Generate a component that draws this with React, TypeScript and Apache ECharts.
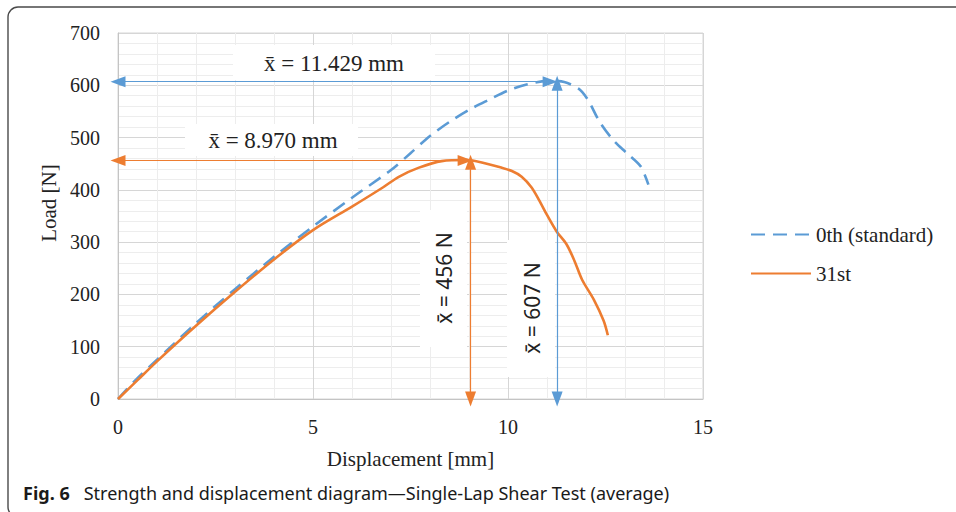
import React, { useEffect, useRef } from "react";
import * as echarts from "echarts";

// ---- data ----
const xTicks = [0, 5, 10, 15];
const yTicks = [0, 100, 200, 300, 400, 500, 600, 700];

const seriesNames = ["0th (standard)", "31st"];

const disp0 = [0, 0.5, 1, 2, 3, 4, 5, 6, 7, 7.5, 8, 8.5, 9, 9.5, 10, 10.5, 11, 11.3, 11.8, 12.05, 12.35, 12.7, 13.05, 13.4, 13.6];
const load0 = [0, 40, 75, 145, 210, 272, 330, 385, 438, 470, 503, 530, 553, 572, 590, 602, 608, 608, 594, 572, 530, 495, 470, 445, 410];

const disp31 = [0, 0.5, 1, 2, 3, 4, 5, 6, 6.8, 7.2, 7.7, 8.3, 8.95, 9.3, 9.8, 10.1, 10.35, 10.6, 10.8, 11, 11.25, 11.5, 11.7, 11.9, 12.2, 12.45, 12.56];
const load31 = [0, 36, 72, 140, 205, 267, 323, 368, 405, 425, 442, 455, 457, 453, 443, 436, 425, 405, 380, 352, 320, 296, 265, 228, 190, 150, 122];

// peak annotation arrows: [fromX, fromY, toX, toY]
const arrows0 = [
  [0, 607, 11.08, 607],
  [11.26, 604, 11.26, 0],
];
const arrows31 = [
  [0, 456, 8.9, 456],
  [9.04, 453, 9.04, 0],
];

const labelTexts = ["x̄ = 11.429 mm", "x̄ = 8.970 mm", "x̄ = 456 N", "x̄ = 607 N"];
const captionBold = "Fig. 6";
const captionText = "Strength and displacement diagram—Single-Lap Shear Test (average)";

const BLUE = "#5B9BD5";
const ORANGE = "#ED7D31";
const SERIF = "'Liberation Serif', 'Times New Roman', serif";
const SANS = "'Noto Sans', 'Open Sans', sans-serif";

function zip(xs: number[], ys: number[]) {
  return xs.map((x, i) => [x, ys[i]]);
}

function arrowLines(list: number[][]) {
  return list.map((a) => [{ coord: [a[0], a[1]] }, { coord: [a[2], a[3]] }]);
}

export default function App() {
  const ref = useRef<HTMLDivElement>(null);

  useEffect(() => {
    if (!ref.current) return;
    const chart = echarts.init(ref.current, undefined, { renderer: "svg" });

    const markLineCommon = (color: string, list: number[][]) => ({
      silent: true,
      symbol: ["triangle", "triangle"],
      symbolSize: [11, 15],
      label: { show: false },
      lineStyle: { color, width: 1.2, type: "solid" },
      emphasis: { disabled: true },
      data: arrowLines(list),
    });

    const option: any = {
      animation: false,
      backgroundColor: "#ffffff",
      grid: {
        left: 118,
        right: 253,
        top: 33,
        bottom: 113,
        show: true,
        borderColor: "#d6d6d6",
        borderWidth: 1,
        backgroundColor: "transparent",
      },
      legend: {
        orient: "vertical",
        left: 745,
        top: 219,
        itemWidth: 60,
        itemHeight: 14,
        itemGap: 18,
        itemStyle: { opacity: 0, borderWidth: 0 },
        textStyle: { fontFamily: SERIF, fontSize: 21, color: "#222" },
        data: seriesNames,
      },
      xAxis: {
        type: "value",
        min: xTicks[0],
        max: xTicks[xTicks.length - 1],
        interval: xTicks[1] - xTicks[0],
        name: "Displacement [mm]",
        nameLocation: "middle",
        nameGap: 49,
        nameTextStyle: { fontFamily: SERIF, fontSize: 21, color: "#222" },
        axisLine: { show: true, lineStyle: { color: "#c4c4c4", width: 1 } },
        axisTick: { show: false },
        axisLabel: { fontFamily: SERIF, fontSize: 20, color: "#222", margin: 18 },
        splitLine: { show: true, lineStyle: { color: "#d6d6d6", width: 1 } },
        minorTick: { show: false, splitNumber: 5 },
        minorSplitLine: { show: true, lineStyle: { color: "#ededed", width: 1 } },
      },
      yAxis: {
        type: "value",
        min: yTicks[0],
        max: yTicks[yTicks.length - 1],
        interval: yTicks[1] - yTicks[0],
        name: "Load [N]",
        nameLocation: "middle",
        nameGap: 59,
        nameTextStyle: { fontFamily: SERIF, fontSize: 21, color: "#222", padding: [0, 0, 0, 26] },
        axisLine: { show: true, lineStyle: { color: "#c4c4c4", width: 1 } },
        axisTick: { show: false },
        axisLabel: { fontFamily: SERIF, fontSize: 20, color: "#222", margin: 18 },
        splitLine: { show: true, lineStyle: { color: "#d6d6d6", width: 1 } },
        minorTick: { show: false, splitNumber: 5 },
        minorSplitLine: { show: true, lineStyle: { color: "#ededed", width: 1 } },
      },
      series: [
        {
          name: seriesNames[0],
          type: "line",
          data: zip(disp0, load0),
          showSymbol: false,
          symbol: "none",
          smooth: 0.3,
          color: BLUE,
          lineStyle: { color: BLUE, width: 2.6, type: [14, 8] },
          z: 3,
          markLine: markLineCommon(BLUE, arrows0),
        },
        {
          name: seriesNames[1],
          type: "line",
          data: zip(disp31, load31),
          showSymbol: false,
          symbol: "none",
          smooth: 0.3,
          color: ORANGE,
          lineStyle: { color: ORANGE, width: 2.6, type: "solid" },
          z: 4,
          markLine: markLineCommon(ORANGE, arrows31),
        },
      ],
      graphic: [
        {
          type: "rect",
          silent: true,
          z: -1,
          shape: { x: 8, y: 7, width: 970, height: 510, r: 10 },
          style: { fill: "none", stroke: "#4a4a4a", lineWidth: 1.4 },
        },
        // label backgrounds
        { type: "rect", z: 1, silent: true, shape: { x: 233, y: 45, width: 202, height: 35 }, style: { fill: "#fff" } },
        { type: "rect", z: 1, silent: true, shape: { x: 185, y: 124, width: 173, height: 32 }, style: { fill: "#fff" } },
        { type: "rect", z: 1, silent: true, shape: { x: 420, y: 210, width: 47, height: 137 }, style: { fill: "#fff" } },
        { type: "rect", z: 1, silent: true, shape: { x: 507, y: 240, width: 48, height: 137 }, style: { fill: "#fff" } },
        {
          type: "text", z: 2, x: 334, y: 63,
          style: { text: labelTexts[0], align: "center", verticalAlign: "middle", font: `23px ${SERIF}`, fill: "#222" },
        },
        {
          type: "text", z: 2, x: 273, y: 140,
          style: { text: labelTexts[1], align: "center", verticalAlign: "middle", font: `23px ${SERIF}`, fill: "#222" },
        },
        {
          type: "text", z: 2, x: 444, y: 278, rotation: Math.PI / 2,
          style: { text: labelTexts[2], align: "center", verticalAlign: "middle", font: `21px ${SANS}`, fill: "#222" },
        },
        {
          type: "text", z: 2, x: 532, y: 308, rotation: Math.PI / 2,
          style: { text: labelTexts[3], align: "center", verticalAlign: "middle", font: `21px ${SANS}`, fill: "#222" },
        },
        {
          type: "text", z: 2, x: 23, y: 493,
          style: {
            text: `{b|${captionBold}}{n|${captionText}}`,
            verticalAlign: "middle",
            rich: {
              b: { fontFamily: SANS, fontWeight: "bold", fontSize: 18, fill: "#1a1a1a", padding: [0, 14, 0, 0] },
              n: { fontFamily: SANS, fontSize: 18, fill: "#1a1a1a" },
            },
          },
        },
      ],
    };

    chart.setOption(option);
    return () => chart.dispose();
  }, []);

  return (
    <div
      ref={ref}
      style={{ position: "fixed", left: 0, top: 0, width: 956, height: 512, background: "#fff" }}
    />
  );
}
